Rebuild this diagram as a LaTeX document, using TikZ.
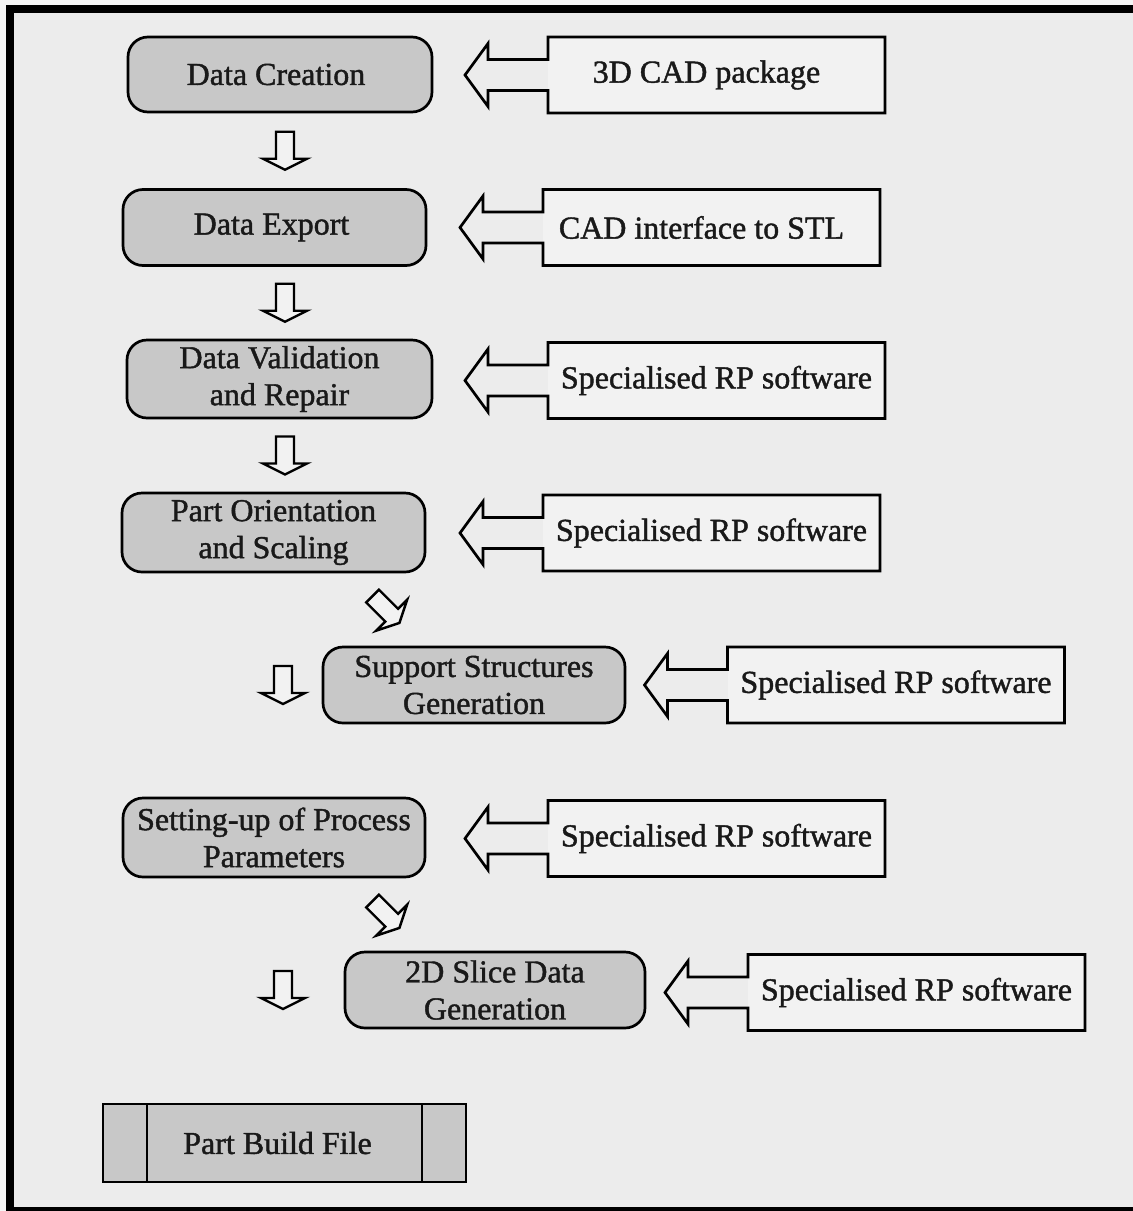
\documentclass[tikz,border=0pt]{standalone}
\usepackage{fontspec}
\setmainfont{Liberation Serif}
\newfontfamily\diagfont{Liberation Serif}[FakeBold=1.3]
\usetikzlibrary{calc}
\definecolor{bg}{RGB}{236,236,236}
\definecolor{outbg}{RGB}{246,246,246}
\definecolor{boxgrey}{RGB}{200,200,200}
\definecolor{rboxfill}{RGB}{242,242,242}
\tikzset{
  txt/.style={font=\diagfont\fontsize{32}{37}\selectfont, text=black!90, align=center},
  stage/.style={txt, draw=black, line width=2.7, rounded corners=20, fill=boxgrey, inner sep=0, outer sep=0},
  tool/.style={txt, fill=rboxfill, minimum width=337, minimum height=76, inner sep=0, outer sep=0},
  filebox/.style={txt, draw=black, line width=2.7, fill=boxgrey, inner sep=0, outer sep=0},
  outline/.style={draw=black, line width=2.7, line join=miter},
  blockdown/.pic={\draw[outline, fill=rboxfill, line width=2.4] (-9,-19) -- (9,-19) -- (9,8) -- (22,8) -- (0,19) -- (-22,8) -- (-9,8) -- cycle;}
}
\newcommand\feedarrow[1]{%
  \draw[outline] ($(#1.west)+(0,-15.5)$) -- (#1.north west) -- (#1.north east) -- (#1.south east) -- (#1.south west)
    -- ($(#1.west)+(0,15.5)$) -- ($(#1.west)+(-60,15.5)$) -- ($(#1.west)+(-60,31.5)$) -- ($(#1.west)+(-83,0)$)
    -- ($(#1.west)+(-60,-31.5)$) -- ($(#1.west)+(-60,-15.5)$) -- cycle;}
\begin{document}
\begin{tikzpicture}[x=1pt, y=-1pt]
\useasboundingbox (0,0) rectangle (1133,1211);
\fill[outbg] (0,0) rectangle (1133,1211);
\fill[bg] (10,9) rectangle (1145,1211);
\draw[line width=8] (10,9) rectangle (1145,1211);

% process stages
\node[stage, minimum width=304, minimum height=75] (L1) at (280,74.5) {\hspace*{-8pt}Data Creation};
\node[stage, minimum width=303, minimum height=76] (L2) at (274.5,227.5) {\hspace*{-6pt}Data Export};
\node[stage, minimum width=305, minimum height=78] (L3) at (279.5,379) {Data Validation\\and Repair};
\node[stage, minimum width=303, minimum height=79] (L4) at (273.5,532.5) {Part Orientation\\and Scaling};
\node[stage, minimum width=302, minimum height=76] (L5) at (474,685) {Support Structures\\Generation};
\node[stage, minimum width=302, minimum height=79] (L6) at (274,837.5) {Setting-up of Process\\Parameters};
\node[stage, minimum width=300, minimum height=76] (L7) at (495,990) {2D Slice Data\\Generation};
\node[filebox, minimum width=363, minimum height=78] (PB) at (284.5,1143) {\hspace*{-14pt}Part Build File};
\draw[line width=2.7] ($(PB.north west)+(44,0)$) -- ($(PB.south west)+(44,0)$);
\draw[line width=2.7] ($(PB.north east)+(-44,0)$) -- ($(PB.south east)+(-44,0)$);

% tools
\node[tool] (R1) at (716.5,75) {\hspace*{-20pt}3D CAD package};
\node[tool] (R2) at (711.5,227.5) {\hspace*{-20pt}CAD interface to STL};
\node[tool] (R3) at (716.5,380.5) {Specialised RP software};
\node[tool] (R4) at (711.5,533) {Specialised RP software};
\node[tool] (R5) at (896,685) {Specialised RP software};
\node[tool] (R6) at (716.5,838.5) {Specialised RP software};
\node[tool] (R7) at (916.5,992.5) {Specialised RP software};
\foreach \r in {R1,R2,R3,R4,R5,R6,R7} {\feedarrow{\r}}

% flow arrows
\coordinate (m1) at ($(L1.south)!0.5!(L2.north)$);
\coordinate (m2) at ($(L2.south)!0.5!(L3.north)$);
\coordinate (m3) at ($(L3.south)!0.5!(L4.north)$);
\coordinate (m4) at ($(L4.south)!0.5!(L5.north)$);
\coordinate (m6) at ($(L6.south)!0.5!(L7.north)$);
\pic at (285,0 |- m1) {blockdown};
\pic at (285,0 |- m2) {blockdown};
\pic at (285,0 |- m3) {blockdown};
\pic[rotate=45] at (386,0 |- m4) {blockdown};
\pic at (283,0 |- L5) {blockdown};
\pic[rotate=45] at (386,0 |- m6) {blockdown};
\pic at (283,0 |- L7) {blockdown};
\end{tikzpicture}
\end{document}
